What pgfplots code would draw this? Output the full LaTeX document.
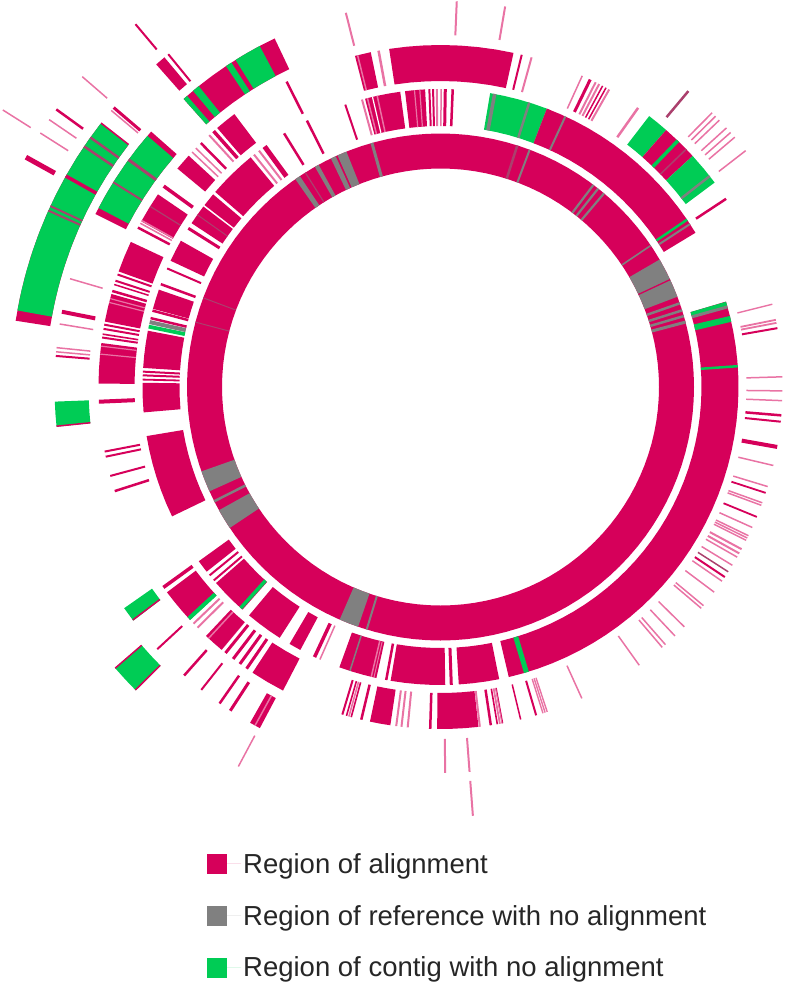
\documentclass[border=0pt]{standalone}
\usepackage{fontspec}
\setmainfont{Liberation Sans}
\usepackage{pgfplots}
\pgfplotsset{compat=1.18}
\definecolor{cr}{RGB}{214,0,90}
\definecolor{gn}{RGB}{0,204,85}
\definecolor{gy}{RGB}{128,128,128}
\colorlet{pk}{cr!55!white}
\colorlet{pl}{cr!30!white}
\colorlet{gc}{cr!50!gy}
\def\cx{440.5}\def\cy{387}
\newcommand\ring[1]{\ifcase#1\def\rA{218.5}\def\rB{253.5}\or\def\rA{261}\def\rB{298}\or\def\rA{306}\def\rB{342}\or\def\rA{352}\def\rB{386}\or\def\rA{395}\def\rB{430}\or\def\rA{441}\def\rB{474}\or\def\rA{485}\def\rB{518}\fi}
% angular block between two angles, on the current ring
\newcommand\Arc[3][cr]{%
 \pgfmathsetmacro\aA{#2}\pgfmathsetmacro\aB{#3}%
 \pgfmathtruncatemacro\nn{max(1,ceil(abs(\aB-\aA)/3))}%
 \pgfmathsetmacro\dA{(\aB-\aA)/\nn}%
 \gdef\pts{}%
 \foreach \i in {0,...,\nn}{%
  \pgfmathsetmacro\tv{\aA+\dA*\i}%
  \pgfmathsetmacro\X{\cx+\rB*cos(\tv)}\pgfmathsetmacro\Y{\cy-\rB*sin(\tv)}%
  \xdef\pts{\pts (\X,\Y)}}%
 \foreach \i in {0,...,\nn}{%
  \pgfmathsetmacro\tv{\aB-\dA*\i}%
  \pgfmathsetmacro\X{\cx+\rA*cos(\tv)}\pgfmathsetmacro\Y{\cy-\rA*sin(\tv)}%
  \xdef\pts{\pts (\X,\Y)}}%
 \edef\cmd{\noexpand\addplot[fill=#1,draw=none,forget plot] coordinates {\pts};}\cmd}
% block given by two points
\newcommand\B[5][cr]{%
 \pgfmathsetmacro\aP{atan2(\cy-#3,#2-\cx)}\pgfmathsetmacro\aQ{atan2(\cy-#5,#4-\cx)}%
 \pgfmathsetmacro\aQ{\aQ-\aP>180?\aQ-360:(\aQ-\aP<-180?\aQ+360:\aQ)}%
 \Arc[#1]{\aP}{\aQ}}
% radial stroke through a point
\newcommand\T[4][cr]{%
 \pgfmathsetmacro\aP{atan2(\cy-#3,#2-\cx)}%
 \pgfmathsetmacro\Xa{\cx+\rA*cos(\aP)}\pgfmathsetmacro\Ya{\cy-\rA*sin(\aP)}%
 \pgfmathsetmacro\Xb{\cx+\rB*cos(\aP)}\pgfmathsetmacro\Yb{\cy-\rB*sin(\aP)}%
 \edef\cmd{\noexpand\addplot[#1,line width=#4pt,forget plot] coordinates {(\Xa,\Ya)(\Xb,\Yb)};}\cmd}
\begin{document}
\begin{tikzpicture}
\path[use as bounding box] (0pt,0pt) rectangle (785pt,985pt);
\begin{axis}[at={(0pt,0pt)},anchor=south west,scale only axis,width=785pt,height=985pt,xmin=0,xmax=785,ymin=0,ymax=985,y dir=reverse,hide axis,
 legend image code/.code={\fill[#1,draw=none] (0pt,-10pt) rectangle (20pt,10pt);\path[draw=none] (0pt,0pt) -- (34pt,0pt);},
 legend cell align=left,
 legend style={at={(axis cs:207,851)},anchor=north west,draw=none,fill=none,font=\fontsize{27.5}{32}\selectfont,text=black!85,row sep=26.5pt,inner sep=0pt,nodes={inner sep=2pt}}]
\addlegendimage{fill=cr}\addlegendentry{Region of alignment}
\addlegendimage{fill=gy}\addlegendentry{Region of reference with no alignment}
\addlegendimage{fill=gn}\addlegendentry{Region of contig with no alignment}
% ---- reference ring
\ring{0}
\Arc{0}{360}
\T[gy]{376.7}{160}{3}
\B[gy]{344}{170}{352.7}{167.3}
\B[gy]{337.7}{172.7}{342.7}{171.7}
\B[gy]{323}{181}{327}{180}
\B[gy]{305}{193}{309.3}{190.3}
\T[gc]{315}{188}{1.2}
\T[gc]{217}{303}{1}
\T[gc]{210}{326}{1}
\B[gy]{216.7}{466}{225}{484.3}
\T[gy]{230}{493.3}{2.5}
\B[gy]{234.3}{501.7}{241.7}{520}
\B[gy]{346}{605}{363.5}{611}
\T[gy]{372}{612}{2}
\T[gc]{511.7}{163}{2.5}
\T[gy]{523.3}{166.7}{2}
\T[gy]{583.3}{198.3}{2.2}
\T[gy]{587.7}{201.7}{2.2}
\T[gy]{593.3}{206}{2.2}
\T[gy]{636.7}{255}{1.6}
\B[gy]{647.3}{266.7}{661.7}{302.7}
\T[cr]{655}{286.7}{1.3}
\T[gy]{665}{308.5}{2.5}
\T[gy]{666}{315.5}{2.5}
\T[gy]{667}{321}{2.5}
\T[gy]{667}{327}{3}
% ---- ring 1
\ring{1}
\B{709.5}{306.5}{505}{661}
\T[gn]{710}{308.5}{4}
\T[gy]{711}{311.5}{3}
\T[gn]{713}{323}{6}
\T[gn]{721.7}{367.3}{2.5}
\T[gn]{521.7}{656.7}{5}
\B{457.7}{666.7}{496}{663.3}
\T{450.7}{668.3}{3}
\B{393.3}{665}{445}{669.3}
\T{389.3}{663.3}{2.5}
\B{345}{651.7}{380}{661.7}
\T[gy]{355}{655}{1.5}
\T[pk]{375}{661}{1.5}
\T[pk]{377.5}{662}{1}
\T{321.7}{641.7}{3.5}
\T[pk]{327}{643.5}{1.5}
\B{297.7}{630}{308.3}{635}
\B{259.7}{602.7}{289}{623.3}
\B{228.7}{572}{254}{596.7}
\T[gn]{252}{595.5}{3.5}
\T{222.3}{565}{2}
\T{226}{570}{2}
\B{212}{551.7}{219.3}{561.7}
\B{163.3}{433.3}{187.3}{509}
\B{159.3}{383}{160}{411}
\T{160}{372.5}{2}
\T{160}{376}{2}
\T{160}{380}{1.8}
\B{165}{334}{160}{369}
\T[gn]{165}{330}{3.8}
\T[gy]{165}{325.5}{4}
\T{165.7}{321.7}{2.5}
\T{169}{315}{2.5}
\B{174.3}{295}{168.3}{313}
\T{176.7}{290}{2.5}
\T{182.3}{275}{2}
\B{194.3}{248.3}{186.7}{268.3}
\T{201.7}{236.7}{3}
\B{216.7}{216.7}{206}{232.7}
\T[gc]{211.7}{225}{1}
\B{225.7}{205}{218.3}{215.7}
\B{228}{203}{261.7}{170.7}
\T[pk]{265}{168.3}{2}
\T[pk]{270}{165}{2}
\T{275}{160.7}{5}
\T{293.3}{148.3}{2.5}
\T{315}{136.7}{2.5}
\T{350.7}{120.7}{2}
\B{369.3}{115}{402.7}{110}
\T[white]{376.7}{115}{1.2}
\T[pk]{371.7}{115}{1.5}
\T[pk]{380.7}{112}{1.5}
\T[pk]{366.5}{116}{2}
\B{407}{108}{426}{107}
\T[pk]{416}{107.5}{1.2}
\T[pk]{421}{107}{1.2}
\T{430}{107}{2}
\T{433.5}{107}{2}
\T[pk]{437}{107}{2}
\T[pk]{441}{107}{1.5}
\T{445}{107}{3}
\T{452}{107}{2.5}
\B[gn]{487.3}{110}{540.7}{125}
\T[gy]{491.7}{110}{3.5}
\T[gy]{523.3}{121.7}{2.5}
\T[gy]{543.3}{121.7}{3}
\B{540.7}{125}{680.7}{241.7}
\T[gy]{558.3}{131.7}{2}
\T[gn]{673.3}{229}{2.5}
\T[gy]{676.3}{233}{2}
% ---- ring 2
\ring{2}
\T[pk]{756}{308.3}{1.4}
\T[pk]{760}{323}{1.8}
\T[pk]{760}{326}{1.8}
\T{761}{331}{2}
\T[pk]{765.7}{377.3}{1.5}
\T[pk]{765.7}{390.7}{1.5}
\T[pk]{765.7}{400}{1.5}
\T{765}{414}{2.5}
\T{764}{420}{2}
\T{760.7}{444}{4}
\T[pk]{757.3}{461.7}{1.5}
\T[pk]{751.7}{481.7}{1.5}
\T{746.7}{486.7}{1.8}
\T[pk]{742}{495.5}{1.5}
\T[pk]{741.5}{498}{1.5}
\T{738.3}{509.3}{1.8}
\T[pk]{735.7}{520}{1.5}
\T[pk]{733.5}{528.5}{1.5}
\T[pk]{733}{531}{1.5}
\T[pk]{732.5}{533.5}{1.5}
\T[pk]{727.7}{541.7}{2}
\T[pk]{726}{546}{2}
\T[pk]{723}{549}{1.5}
\T[pk]{718.3}{556.7}{1.5}
\T[gc]{715}{563.3}{1.5}
\T{711.7}{568.3}{2}
\T[pk]{708.3}{571.7}{1.5}
\T[pk]{701}{582.3}{1.5}
\T[pk]{690.7}{595}{1.5}
\T[pk]{688.3}{597.3}{1.5}
\T[pk]{672.3}{615}{1.5}
\T[pk]{664}{624.3}{1.5}
\T[pk]{655}{632.7}{1.5}
\T[pk]{651.7}{635}{1.5}
\T[pk]{630}{652.3}{1.5}
\T[pk]{575}{683.3}{1.5}
\T[pk]{542}{696}{1.4}
\T[pk]{540}{696.7}{1.4}
\T[pk]{538}{697.5}{1.4}
\T{531.7}{700}{2}
\T{516.7}{703}{1.5}
\T{499.5}{707}{1.6}
\T[pk]{497}{707.3}{1.8}
\T{494.5}{707.5}{1.6}
\T[pk]{499}{707}{1}
\T{488.3}{708.3}{2.5}
\B{437.3}{712.7}{476.7}{710.7}
\T[pk]{478}{710.7}{2}
\T{430.7}{712.7}{2.5}
\T[pk]{409.3}{710.7}{2}
\T[pk]{403.3}{710.7}{2}
\T[pk]{398.3}{710}{2}
\B{373.3}{705.7}{392.7}{709.3}
\T{365}{704}{2.5}
\T{355.5}{701.3}{1.6}
\T[pk]{353.3}{700.7}{1.6}
\T{351}{700}{1.6}
\T{346.7}{700}{2}
\B{261.3}{659.3}{290.7}{675.7}
\T{256.7}{654}{3}
\T{250}{650}{3}
\T{243}{646}{3}
\T{236}{640}{3}
\T[pk]{231}{637}{2.5}
\B{217.3}{624}{230.7}{638.7}
\T[pk]{219.5}{626.5}{1.5}
\T[pk]{206}{611.7}{2}
\T[pk]{209.3}{616}{2}
\B{180.3}{582.3}{201.7}{609}
\T[gn]{201}{607.3}{4}
\T{176}{578.3}{3.5}
\T{121.7}{448.3}{2}
\T{122}{453.3}{2}
\T{126}{471.7}{2}
\T{130.7}{486}{2.5}
\T{115.7}{401}{4}
\B{115.7}{383.7}{116.7}{345}
\T[pk]{116.7}{355.7}{1.2}
\T[pk]{116.7}{348}{1.2}
\T{119}{340}{2}
\T{119}{336.7}{1.6}
\T{120}{331.7}{2}
\T{120.7}{327.7}{2}
\B{122.3}{325}{126.7}{298.3}
\T[pk]{126.7}{303}{1.2}
\T[pk]{126}{306.7}{1.2}
\T{126}{295}{2.5}
\T{131.7}{290}{1.5}
\T{131.7}{286}{2}
\T{133.3}{280}{2}
\B{146}{249}{133.3}{276.7}
\B{170.7}{203}{153.3}{228}
\T[gc]{166.7}{216.7}{1.2}
\T[pk]{156}{228.5}{1.5}
\T[pk]{154.5}{231}{1.5}
\T{152}{235}{2.5}
\T{178.3}{196.7}{3.5}
\B{201.3}{167.3}{190}{179}
\T[pk]{204}{163.3}{1.5}
\T[pk]{208}{160}{1.5}
\T{213.3}{155.7}{2.5}
\T{225}{144}{3.5}
\T[pk]{221}{148}{2}
\B{244.5}{127.5}{229}{141.7}
\T{295}{98.3}{2.5}
\B{359.3}{72.7}{374.3}{69.3}
\T[pk]{361.7}{71.7}{1.5}
\T[pk]{381.7}{67.7}{2.5}
\B{391.7}{65.7}{510}{69}
\T{518}{70}{2}
\T[pk]{526.7}{75}{2}
\T[pk]{575}{91.7}{1.5}
\T{582.7}{95}{3}
\T[pk]{588.3}{96.7}{2}
\T[pk]{591.7}{98.3}{2}
\T{595}{100}{1.5}
\T{598.3}{101.7}{1.5}
\T[pk]{601.7}{102.7}{2}
\T[pk]{628.3}{121.7}{2.5}
\B[gn]{639}{129.3}{655}{142.7}
\B{655}{142.7}{665.7}{153.3}
\B{665.7}{153.3}{680.3}{167.3}
\T[gn]{665.7}{153.3}{3.5}
\T[gc]{675}{160}{1.5}
\B[gn]{680.3}{167.3}{701}{192.7}
\T[gy]{698.3}{185}{2.5}
\T{711.7}{208.3}{2.5}
% ---- ring 3
\ring{3}
\T[pk]{700}{125}{1.5}
\T[pk]{703.3}{128.3}{1.5}
\T[pk]{707.3}{131.7}{1.5}
\T[pk]{715}{138.3}{1.5}
\T[pk]{718.3}{143.3}{1.5}
\T[pk]{721.7}{148.3}{1.5}
\T[pk]{732.3}{161}{1.5}
\T[gc]{677.3}{104.3}{2.5}
\T[pk]{456}{19.3}{2}
\T[pk]{502.3}{23.3}{2}
\T[pk]{350}{29.3}{2}
\B{195}{111.7}{281.7}{53.3}
\B[gn]{195}{111.7}{198.5}{109}
\B[gn]{204}{104}{209.5}{99.5}
\B[gn]{236}{81}{241}{77.5}
\B[gn]{245}{75}{267.5}{60.7}
\B{110.7}{221.7}{163.3}{142.3}
\B[gn]{114}{216}{160}{146.7}
\T[gc]{142.7}{170}{3}
\T[gc]{127.3}{191}{2}
\T[pk]{85.7}{283.3}{1.5}
\T{78.3}{315}{4}
\T[pk]{76}{326.7}{1.5}
\T[pk]{72.7}{349.3}{1.5}
\T[pk]{72.7}{353.3}{1.5}
\T{72.7}{357.3}{2}
\B[gn]{71.3}{401}{73.3}{425}
\T{73.3}{424.5}{1.5}
\B[gn]{137.3}{599}{146.3}{610.7}
\T{146}{610}{1.5}
\T{169}{638.3}{2}
\T{195}{663.3}{2.5}
\T{211.7}{676.7}{2}
\T{229}{690}{2.5}
\T{239}{697.3}{3}
\B{258.3}{708.3}{267.7}{713.3}
\T[pk]{263}{711}{1.5}
\T[pk]{445}{756.7}{2}
\T[pk]{468.3}{755}{2}
% ---- ring 4
\ring{4}
\B{32.3}{323.3}{114.7}{132.7}
\B[gn]{33.3}{313.3}{113.5}{134}
\T[gc]{103.3}{146.7}{2.5}
\T[gc]{98.3}{156}{2.5}
\T{80}{184}{3.5}
\T[gc]{66}{213.3}{2}
\T[gc]{63.3}{217.3}{2}
\B{166.7}{76.3}{175.3}{70.3}
\T{179.3}{67.7}{2}
\T{126.7}{118.7}{3}
\T[pk]{125}{122}{1.5}
\B[gn]{127.3}{657.3}{147.3}{678.7}
\T{127.5}{657.5}{1.5}
\T{147}{678.5}{1.5}
\T[pk]{245.7}{752.7}{1.5}
\T[pk]{471.7}{800}{2}
% ---- ring 5
\ring{5}
\T[cr]{146}{36.7}{2}
\T[pk]{95}{87.7}{1.5}
\T{70}{119.3}{2.5}
\T[pk]{63.3}{129.3}{1.5}
\T[pk]{54}{141.7}{1.5}
\T{40}{165}{5}
% ---- ring 6
\ring{6}
\T[pk]{16}{118.3}{1.5}
\end{axis}
\end{tikzpicture}
\end{document}
